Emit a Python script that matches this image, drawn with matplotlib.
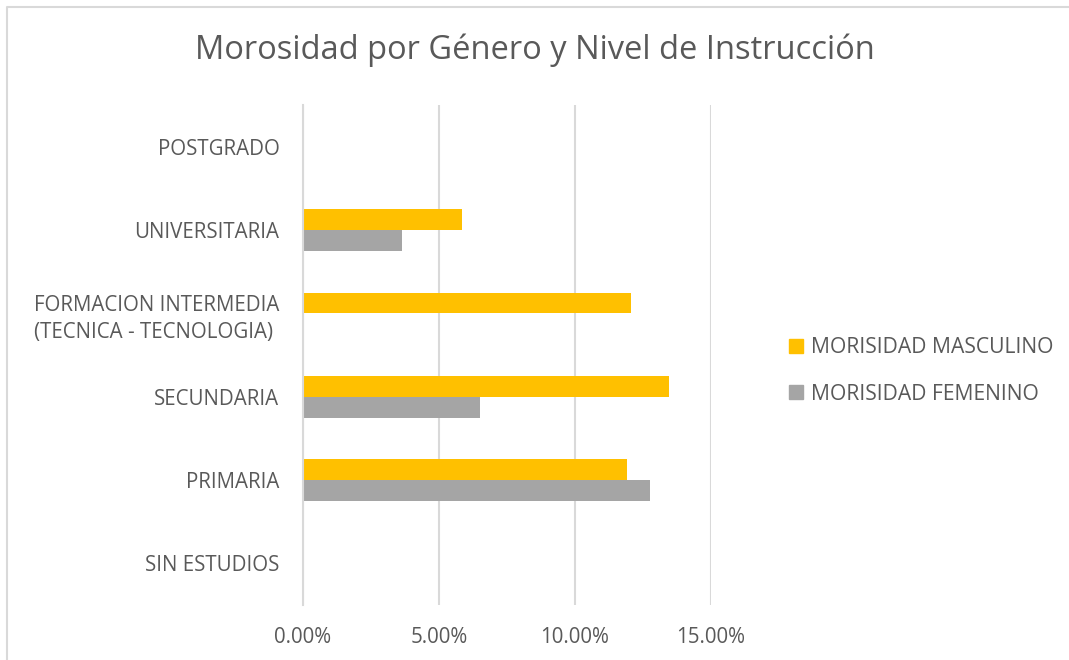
import matplotlib
matplotlib.use('Agg')
import matplotlib.pyplot as plt
from matplotlib.lines import Line2D
from matplotlib.patches import Patch
import numpy as np

categories = ['SIN ESTUDIOS', 'PRIMARIA', 'SECUNDARIA',
              'FORMACION INTERMEDIA\n(TECNICA - TECNOLOGIA)',
              'UNIVERSITARIA', 'POSTGRADO']
masculino = [0.0, 0.1193, 0.1348, 0.1206, 0.0585, 0.0]
femenino = [0.0, 0.1279, 0.0652, 0.0, 0.0365, 0.0]
xticks = [0.0, 0.05, 0.10, 0.15]
xtick_labels = ['0.00%', '5.00%', '10.00%', '15.00%']

COL_M = '#FFC000'
COL_F = '#A5A5A5'
TXT = '#595959'
GRID = '#D9D9D9'

def main():
    plt.rcParams['font.family'] = ['Open Sans', 'DejaVu Sans']

    fig = plt.figure(figsize=(10.69, 6.6), dpi=100)
    ax = fig.add_axes([303 / 1069, 1 - 605 / 660, (710.5 - 303) / 1069, 500 / 660])

    y = np.arange(len(categories))
    h = 0.25
    ax.barh(y + h / 2, masculino, height=h, color=COL_M, label='MORISIDAD MASCULINO')
    ax.barh(y - h / 2, femenino, height=h, color=COL_F, label='MORISIDAD FEMENINO')

    ax.set_xlim(0, 0.15)
    ax.set_ylim(-0.5, len(categories) - 0.5)
    ax.set_xticks(xticks)
    ax.set_xticklabels(xtick_labels)
    ax.set_yticks(y)
    ax.set_yticklabels(categories, ha='right', multialignment='left', linespacing=1.4)

    ax.grid(axis='x', color=GRID, linewidth=1.5)
    ax.set_axisbelow(True)
    for s in ['top', 'right', 'bottom']:
        ax.spines[s].set_visible(False)
    ax.spines['left'].set_color(GRID)
    ax.spines['left'].set_linewidth(1.5)
    ax.tick_params(axis='both', length=0, colors=TXT, labelsize=14.8)
    ax.tick_params(axis='y', pad=17)
    ax.tick_params(axis='x', pad=16)
    for lbl in ax.get_yticklabels():
        lbl.set_y(lbl.get_position()[1])

    fig.text(0.5, 1 - 50 / 660, 'Morosidad por Género y Nivel de Instrucción',
             ha='center', va='center', fontsize=23.5, color=TXT)

    handles = [Patch(color=COL_M), Patch(color=COL_F)]
    fig.legend(handles, ['MORISIDAD MASCULINO', 'MORISIDAD FEMENINO'],
               loc='center left', bbox_to_anchor=(770 / 1069, 1 - 371 / 660),
               frameon=False, fontsize=15.2, labelcolor=TXT,
               handlelength=0.65, handleheight=0.65, handletextpad=0.4,
               labelspacing=1.2)

    # partial border of the chart area (top and left)
    fig.add_artist(Line2D([7 / 1069, 7 / 1069, 1.0], [0.0, 1 - 6.5 / 660, 1 - 6.5 / 660],
                          transform=fig.transFigure, color=GRID, linewidth=1.5))

    fig.savefig('out.png', dpi=100, facecolor='white')

if __name__ == '__main__': main()
